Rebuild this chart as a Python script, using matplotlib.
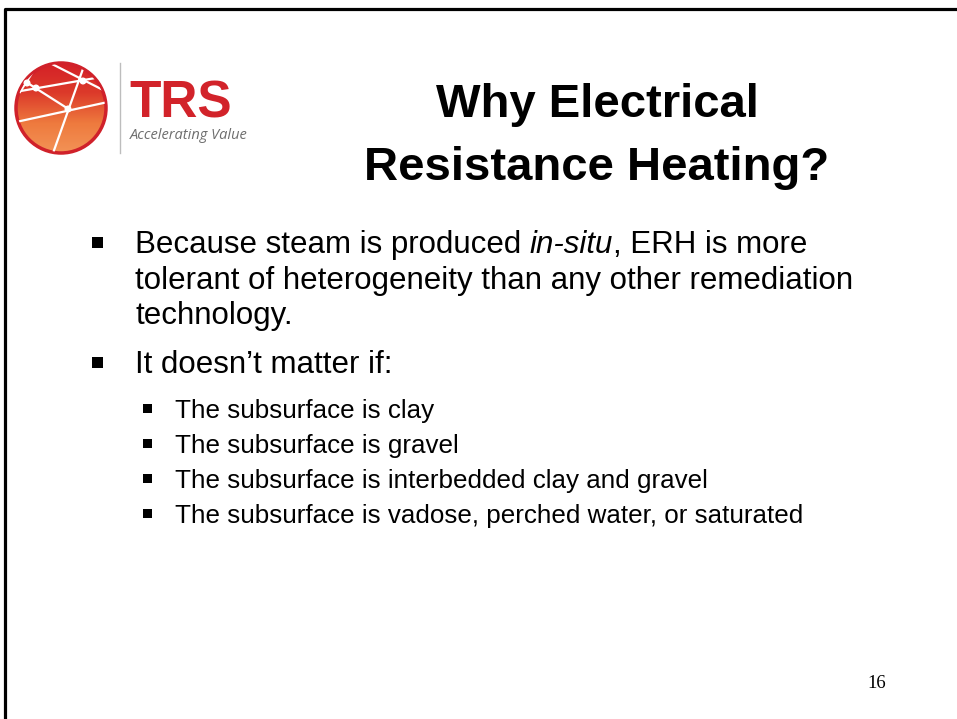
import numpy as np
import matplotlib
matplotlib.use("Agg")
import matplotlib.pyplot as plt
from matplotlib.patches import Circle, Rectangle
from matplotlib.colors import LinearSegmentedColormap

# ---- content ----
title_lines = ["Why Electrical", "Resistance Heating?"]
main_bullet_1 = [("Because steam is produced ", "normal"), ("in-situ", "italic"),
                 (", ERH is more", "normal")]
main_bullet_1_rest = ["tolerant of heterogeneity than any other remediation", "technology."]
main_bullet_2 = "It doesn\u2019t matter if:"
sub_bullets = ["The subsurface is clay",
               "The subsurface is gravel",
               "The subsurface is interbedded clay and gravel",
               "The subsurface is vadose, perched water, or saturated"]
page_number = "16"
logo_name = "TRS"
logo_tagline = "Accelerating Value"

W, H = 957, 719
fig = plt.figure(figsize=(W / 100, H / 100), dpi=100)
ax = fig.add_axes([0, 0, 1, 1])
ax.set_xlim(0, W)
ax.set_ylim(H, 0)
ax.axis("off")

SANS = ["Liberation Sans", "DejaVu Sans"]
SERIF = ["Liberation Serif", "DejaVu Serif"]

# ---- slide border ----
ax.plot([5, 5, W + 5], [H + 5, 9, 9], color="black", lw=2.3, solid_capstyle="projecting")

# ---- logo ----
cx, cy, r = 61, 108, 46
grad = np.linspace(0, 1, 256).reshape(-1, 1)
cmap = LinearSegmentedColormap.from_list("g", ["#d41f27", "#dc3a2a", "#ee7a3e", "#f39457"])
im = ax.imshow(grad, extent=[cx - r, cx + r, cy + r, cy - r], cmap=cmap, aspect="auto", zorder=2)
clip = Circle((cx, cy), r, transform=ax.transData)
im.set_clip_path(clip)
ax.add_patch(Circle((cx, cy), r - 1, fill=False, ec="#d0212a", lw=2.5, zorder=3))
logo_lines = [((15, 92), (107, 76)), ((48, 62), (107, 92)), ((26, 82), (70, 110)),
              ((84, 66), (52, 156)), ((16, 122), (108, 102)), ((34, 70), (20, 92))]
for (x0, y0), (x1, y1) in logo_lines:
    ln, = ax.plot([x0, x1], [y0, y1], color="white", lw=1.6, zorder=4)
    ln.set_clip_path(Circle((cx, cy), r - 2, transform=ax.transData))
for (px, py) in [(36, 88), (83, 81), (68, 109), (27, 83)]:
    ax.add_patch(Circle((px, py), 2.8, color="white", zorder=5))
ax.plot([120, 120], [63, 153], color="#bdbdbd", lw=1.0)
ax.text(129, 117, logo_name, fontsize=37, fontweight="heavy", color="#d2232a",
        family=SANS, va="baseline", ha="left")
ax.text(130, 139, logo_tagline, fontsize=10.5, style="italic", color="#6e6e6e",
        family=["Open Sans", "Liberation Sans"], va="baseline", ha="left")

# ---- title ----
for i, line in enumerate(title_lines):
    ax.text(597, 117 + i * 63, line, fontsize=34, fontweight="bold", color="black",
            family=SANS, ha="center", va="baseline")

# ---- bullets ----
def square(x, y, s):
    ax.add_patch(Rectangle((x, y), s, s, color="black", lw=0))

main_fs = 22.5
sub_fs = 18.7
x_main = 135
base = 253
lh = 35.5
square(92, base - 16, 11)
prev = None
for txt, st in main_bullet_1:
    if prev is None:
        prev = ax.text(x_main, base, txt, fontsize=main_fs, style=st, family=SANS,
                       va="baseline", ha="left")
    else:
        prev = ax.annotate(txt, xy=(1, 0), xycoords=prev, fontsize=main_fs, style=st,
                           family=SANS, va="bottom", ha="left")
for i, line in enumerate(main_bullet_1_rest):
    ax.text(x_main, base + (i + 1) * lh, line, fontsize=main_fs, family=SANS,
            va="baseline", ha="left")
base2 = 373
square(92, base2 - 16, 11)
ax.text(x_main, base2, main_bullet_2, fontsize=main_fs, family=SANS, va="baseline", ha="left")

sub_base = 418
sub_lh = 35
for i, line in enumerate(sub_bullets):
    y = sub_base + i * sub_lh
    square(143, y - 14, 9)
    ax.text(175, y, line, fontsize=sub_fs, family=SANS, va="baseline", ha="left")

# ---- page number ----
ax.text(867, 688, page_number, fontsize=13.5, family=SERIF, va="baseline", ha="left")

fig.savefig("out.png", dpi=100)
